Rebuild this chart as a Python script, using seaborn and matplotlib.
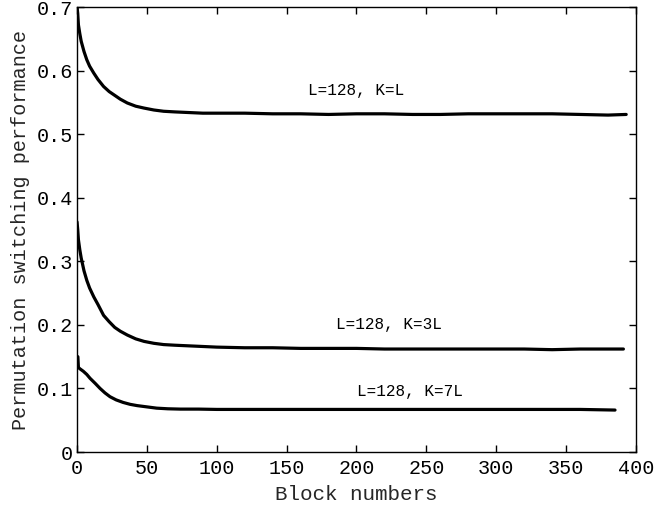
import numpy as np
import pandas as pd
import matplotlib
matplotlib.use("Agg")
import matplotlib.pyplot as plt
import seaborn as sns

blocks_kl = [0, 0.5, 1, 2, 3, 5, 7, 9, 12, 15, 19, 23, 27, 31, 36, 42, 48, 55, 62, 70, 80, 90,
             100, 120, 140, 160, 180, 200, 220, 240, 260, 280, 300, 320, 340, 360, 380, 393]
perf_kl = [0.700, 0.690, 0.672, 0.658, 0.646, 0.630, 0.617, 0.607, 0.596, 0.586, 0.575, 0.567,
           0.561, 0.555, 0.549, 0.544, 0.541, 0.538, 0.536, 0.535, 0.534, 0.533,
           0.533, 0.533, 0.532, 0.532, 0.531, 0.532, 0.532, 0.531, 0.531, 0.532, 0.532, 0.532,
           0.532, 0.531, 0.530, 0.531]

blocks_k3l = [0, 0.5, 1, 2, 3, 5, 7, 9, 12, 15, 19, 23, 27, 31, 36, 42, 48, 55, 62, 70, 80, 90,
              100, 120, 140, 160, 180, 200, 220, 240, 260, 280, 300, 320, 340, 360, 380, 391]
perf_k3l = [0.362, 0.350, 0.334, 0.318, 0.305, 0.285, 0.270, 0.258, 0.244, 0.232, 0.215, 0.205,
            0.196, 0.190, 0.184, 0.178, 0.174, 0.171, 0.169, 0.168, 0.167, 0.166,
            0.165, 0.164, 0.164, 0.163, 0.163, 0.163, 0.162, 0.162, 0.162, 0.162, 0.162, 0.162,
            0.161, 0.162, 0.162, 0.162]

blocks_k7l = [0, 0.6, 1, 2, 4.5, 7, 9.3, 13, 16.5, 20, 23.6, 28, 33, 38, 43, 50, 57, 65, 74, 87,
              100, 120, 140, 160, 180, 200, 220, 240, 260, 280, 300, 320, 340, 360, 385]
perf_k7l = [0.150, 0.150, 0.133, 0.131, 0.127, 0.122, 0.116, 0.108, 0.100, 0.093, 0.087, 0.082,
            0.078, 0.075, 0.073, 0.071, 0.069, 0.068, 0.0675, 0.0675,
            0.067, 0.067, 0.067, 0.067, 0.067, 0.067, 0.067, 0.067, 0.067, 0.067, 0.067, 0.067,
            0.067, 0.067, 0.066]

labels = ["L=128, K=L", "L=128, K=3L", "L=128, K=7L"]
label_x = [200, 223, 238]
label_y = [0.569, 0.200, 0.095]

x_ticks = [0, 50, 100, 150, 200, 250, 300, 350, 400]
y_ticks = [0, 0.1, 0.2, 0.3, 0.4, 0.5, 0.6, 0.7]
y_tick_labels = ["0", "0.1", "0.2", "0.3", "0.4", "0.5", "0.6", "0.7"]

sns.set_style("ticks")
plt.rcParams["font.family"] = ["Liberation Mono", "DejaVu Sans Mono"]

fig = plt.figure(figsize=(6.6, 5.08), dpi=100)
ax = fig.add_axes([0.1167, 0.1102, 0.8469, 0.8760])

frames = []
for b, p, lab in [(blocks_kl, perf_kl, labels[0]), (blocks_k3l, perf_k3l, labels[1]),
                  (blocks_k7l, perf_k7l, labels[2])]:
    frames.append(pd.DataFrame({"block": b, "perf": p, "series": lab}))
df = pd.concat(frames, ignore_index=True)

sns.lineplot(data=df, x="block", y="perf", units="series", estimator=None,
             color="black", linewidth=2.3, ax=ax, legend=False, sort=False)

for lab, lx, ly in zip(labels, label_x, label_y):
    ax.text(lx, ly, lab, ha="center", va="center", fontsize=11.5, color="black")

ax.set_xlim(0, 400)
ax.set_ylim(0, 0.7)
ax.set_xticks(x_ticks)
ax.set_yticks(y_ticks)
ax.set_yticklabels(y_tick_labels)
ax.tick_params(direction="in", length=5, width=1, top=True, right=True,
               labelsize=14.5, colors="black")
ax.tick_params(axis="y", pad=3)
ax.tick_params(axis="x", pad=5)
for s in ax.spines.values():
    s.set_color("black")
    s.set_linewidth(1)
ax.set_xlabel("Block numbers", fontsize=15)
ax.set_ylabel("Permutation switching performance", fontsize=14.5, labelpad=5)
ax.xaxis.set_label_coords(0.5, -0.074)

fig.savefig("out.png", dpi=100)
